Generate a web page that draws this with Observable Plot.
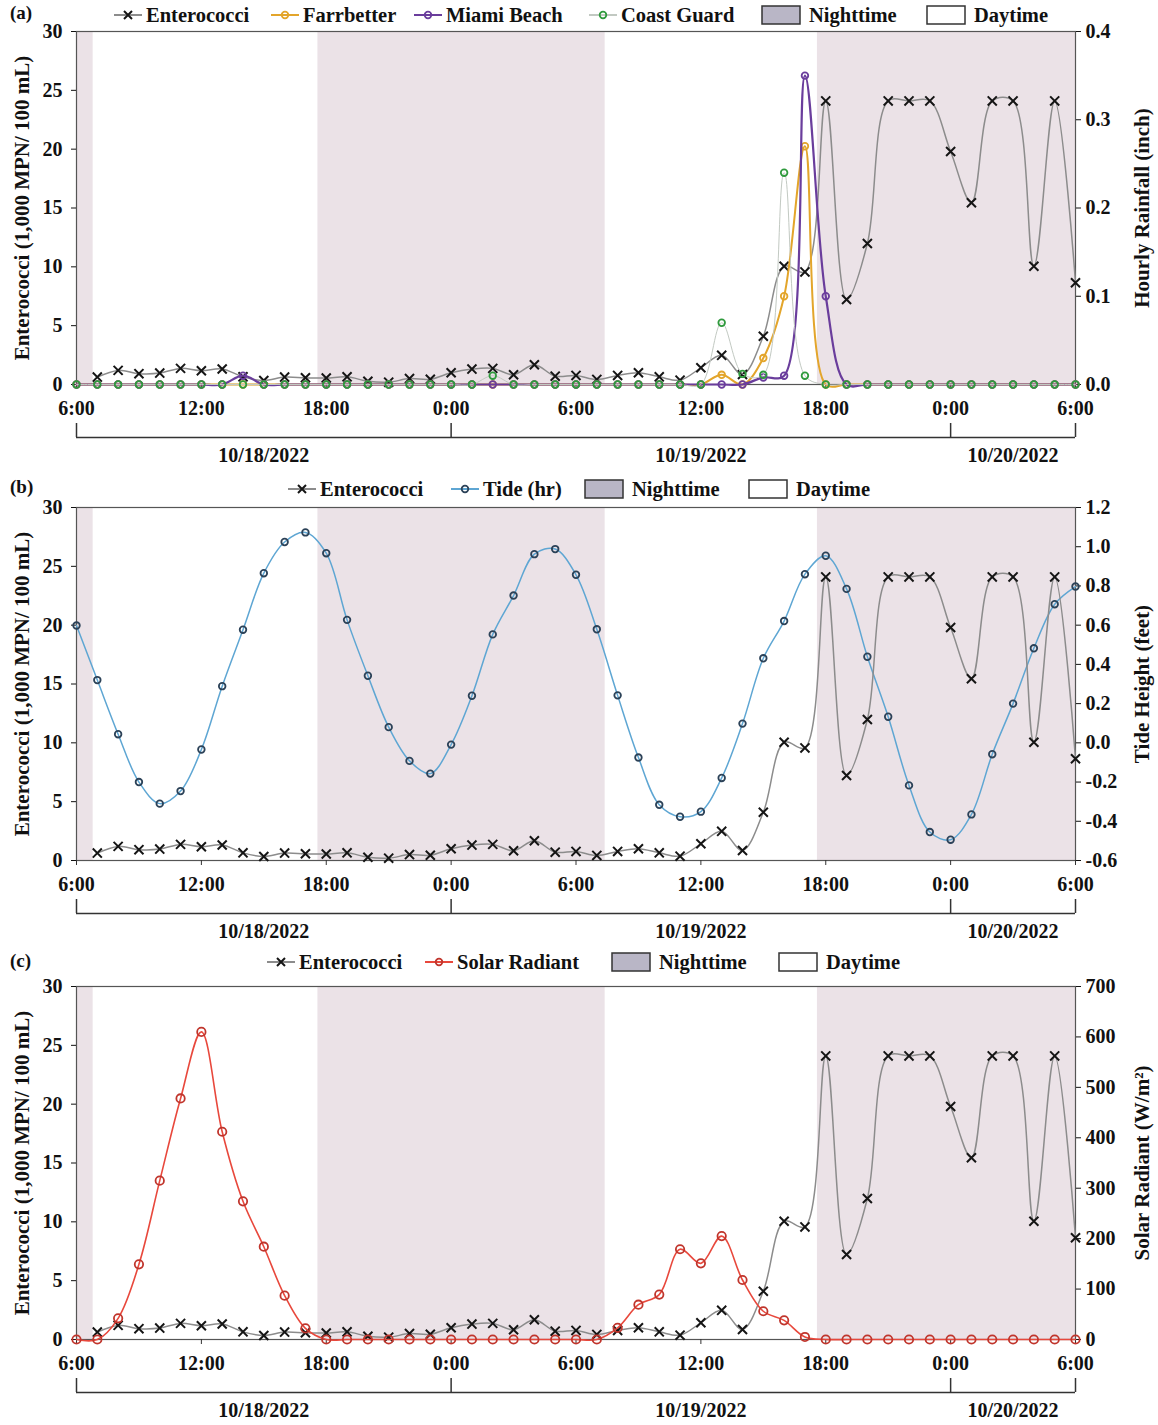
<!DOCTYPE html>
<html><head><meta charset="utf-8">
<script src="https://cdn.jsdelivr.net/npm/d3@7"></script>
<script src="https://cdn.jsdelivr.net/npm/@observablehq/plot@0.6"></script>
<style>
html,body{margin:0;padding:0;background:#fff;overflow:hidden;}
body{font-family:"Liberation Serif","Times New Roman",serif;font-weight:bold;color:#111;}
#root{position:relative;width:1158px;height:1425px;}
.panel{position:absolute;left:0;width:1158px;}
.lg{position:absolute;display:flex;align-items:center;height:24px;font-size:20.5px;white-space:nowrap;}
.lg svg{margin-right:3px;}
.tag{position:absolute;left:10px;font-size:19px;}
</style></head><body><div id="root"></div>
<script>
// ---- data (x = hours after 6:00 on 10/18/2022) ----
const hourOffsets = d3.range(0, 49);
const enteroHours = d3.range(1, 49);
const enterococci = [0.63,1.2,0.92,0.97,1.37,1.17,1.32,0.65,0.34,0.63,
  0.57,0.55,0.65,0.28,0.2,0.5,0.45,1.0,1.31,1.37,
  0.83,1.68,0.71,0.77,0.43,0.77,1.0,0.65,0.37,1.42,
  2.48,0.85,4.1,10.05,9.57,24.1,7.22,11.98,24.1,24.1,
  24.1,19.8,15.45,24.1,24.1,10.05,24.1,8.65];
const farrbetter = [0,0,0,0,0,0,0,0,0,0, 0,0,0,0,0,0,0,0,0,0, 0,0,0,0,0,0,0,0,0,0,
  0,0.011,0,0.03,0.10,0.27,0,0,0,0, 0,0,0,0,0,0,0,0,0];
const miamiBeach = [0,0,0,0,0,0,0,0,0.01,0, 0,0,0,0,0,0,0,0,0,0, 0,0,0,0,0,0,0,0,0,0,
  0,0,0,0.008,0.01,0.35,0.10,0,0,0, 0,0,0,0,0,0,0,0,0];
const coastGuard = [0,0,0,0,0,0,0,0,0,0, 0,0,0,0,0,0,0,0,0,0, 0.01,0,0,0,0,0,0,0,0,0,
  0,0.07,0.012,0.011,0.24,0.01,0,0,0,0, 0,0,0,0,0,0,0,0,0];
const tideHeight = [0.598,0.32,0.044,-0.2,-0.31,-0.246,-0.034,0.289,0.577,0.865,
  1.024,1.073,0.967,0.627,0.342,0.08,-0.092,-0.157,-0.009,0.24,
  0.553,0.751,0.962,0.988,0.857,0.579,0.242,-0.075,-0.316,-0.377,
  -0.351,-0.179,0.098,0.431,0.621,0.86,0.954,0.785,0.439,0.133,
  -0.217,-0.455,-0.494,-0.365,-0.058,0.2,0.482,0.707,0.797];
const solarRadiant = [0,0,42,149,315,478,610,412,274,184,
  87,22,0,0,0,0,0,0,0,0, 0,0,0,0,0,0,
  23,69,89,179,151,205,118,56,38,5,
  0,0,0,0,0,0,0,0,0,0,0,0,0];
const nightStart = [0, 11.6, 35.6];
const nightEnd = [0.8, 25.4, 48];
const xTicks = [0,6,12,18,24,30,36,42,48];
const xTickLabels = ["6:00","12:00","18:00","0:00","6:00","12:00","18:00","0:00","6:00"];
const dayBounds = [0, 18, 42, 48];
const dateLabels = ["10/18/2022","10/19/2022","10/20/2022"];
const leftTicks = [0,5,10,15,20,25,30];
const rainTicks = [0,0.1,0.2,0.3,0.4];
const tideTicks = [-0.6,-0.4,-0.2,0,0.2,0.4,0.6,0.8,1.0,1.2];
const solarTicks = [0,100,200,300,400,500,600,700];
const leftTitle = "Enterococci (1,000 MPN/ 100 mL)";

// ---- helpers ----
const FONT = '"Liberation Serif","Times New Roman",serif';
const nights = nightStart.map((s,i)=>({start:s,end:nightEnd[i]}));
const dateMid = dateLabels.map((d,i)=>({label:d, x:(dayBounds[i]+dayBounds[i+1])/2}));
const entero = enteroHours.map((h,i)=>({x:h,y:enterococci[i]}));
const C = {night:"#ebe2e7", entero:"#8c8c8c", farr:"#e3a52b", miami:"#6a3d9c",
  coastLine:"#c2c9c2", coast:"#2f9a3d", tideLine:"#5ea6d3", tideDot:"#2c4258",
  solarLine:"#e8483c", solarDot:"#c0352c"};

function basePlot(extraMarks, right) {
  return Plot.plot({
    width:1158, height:471, marginLeft:76, marginRight:83, marginTop:31, marginBottom:87,
    x:{domain:[hourOffsets[0], hourOffsets[hourOffsets.length-1]]},
    y:{domain:[leftTicks[0], leftTicks[leftTicks.length-1]]},
    style:{fontSize:"20px", fontFamily:FONT, fontWeight:"bold", color:"#111", background:"transparent", overflow:"visible"},
    marks:[
      Plot.rect(nights, {x1:"start", x2:"end", fill:C.night}),
      Plot.frame({stroke:"#555", strokeWidth:1.2}),
      Plot.axisX(xTicks, {tickFormat:(d)=>xTickLabels[xTicks.indexOf(d)], tickSize:5, tickPadding:11, label:null, stroke:"#333"}),
      Plot.axisY(leftTicks, {anchor:"left", tickSize:5, tickPadding:9, label:null}),
      Plot.axisY(right.ticks.map(right.toLeft), {anchor:"right", tickSize:5, tickPadding:5, tickFormat:right.fmt, label:null}),
      Plot.text([leftTitle], {frameAnchor:"left", textAnchor:"middle", rotate:-90, dx:-54, fontSize:21}),
      Plot.text([right.label], {frameAnchor:"right", textAnchor:"middle", rotate:-90, dx:67, fontSize:21}),
      Plot.ruleY([0], {x1:dayBounds[0], x2:dayBounds[dayBounds.length-1], dy:53, stroke:"#333", strokeWidth:1.5}),
      Plot.ruleX(dayBounds, {y1:0, y2:0, dy:53, insetTop:-14, stroke:"#333", strokeWidth:1.5}),
      Plot.text(dateMid, {x:"x", text:"label", frameAnchor:"bottom", dy:77, fontSize:20}),
      ...extraMarks
    ]
  });
}
function enteroMarks() {
  return [
    Plot.line(entero, {x:"x", y:"y", stroke:C.entero, strokeWidth:1.5, curve:"catmull-rom"}),
    Plot.dot(entero, {x:"x", y:"y", symbol:"times", r:4.2, stroke:"#151515", strokeWidth:2})
  ];
}
function seriesMarks(values, toLeft, lineColor, dotColor, lw, r) {
  const data = hourOffsets.map((h,i)=>({x:h, y:toLeft(values[i])}));
  return [
    Plot.line(data, {x:"x", y:"y", stroke:lineColor, strokeWidth:lw, curve:"catmull-rom"}),
    Plot.dot(data, {x:"x", y:"y", r:r, stroke:dotColor, strokeWidth:1.8, fill:"none"})
  ];
}

function swatchLine(color, marker, mcolor) {
  const m = marker === "x"
    ? `<path d="M11 3 L19 11 M19 3 L11 11" stroke="${mcolor}" stroke-width="2"/>`
    : `<circle cx="15" cy="7" r="3.3" fill="none" stroke="${mcolor}" stroke-width="1.8"/>`;
  return `<svg width="30" height="14"><line x1="1" y1="7" x2="29" y2="7" stroke="${color}" stroke-width="2"/>${m}</svg>`;
}
function swatchBox(fill) {
  return `<svg width="40" height="20" style="margin-right:8px"><rect x="1" y="1" width="38" height="18" fill="${fill}" stroke="#333" stroke-width="1.5"/></svg>`;
}
function legend(root, cy, items) {
  for (const it of items) {
    const d = document.createElement("div");
    d.className = "lg";
    d.style.left = it.left + "px";
    d.style.top = (cy - 12) + "px";
    d.innerHTML = (it.box ? swatchBox(it.box) : swatchLine(it.color, it.marker, it.mcolor)) + `<span>${it.text}</span>`;
    root.appendChild(d);
  }
}
function tag(root, top, t) {
  const d = document.createElement("div");
  d.className = "tag"; d.style.top = top + "px"; d.textContent = t;
  root.appendChild(d);
}
function place(root, top, node) {
  const d = document.createElement("div");
  d.className = "panel"; d.style.top = top + "px";
  d.appendChild(node); root.appendChild(d);
}

const root = document.getElementById("root");

// (a) rainfall
const rain = {ticks:rainTicks, toLeft:(v)=>v*30/0.4, fmt:(d)=>(d*0.4/30).toFixed(1), label:"Hourly Rainfall (inch)"};
place(root, 0, basePlot([
  ...enteroMarks(),
  ...seriesMarks(farrbetter, rain.toLeft, C.farr, C.farr, 2, 3.3),
  ...seriesMarks(miamiBeach, rain.toLeft, C.miami, C.miami, 2.2, 3.3),
  ...seriesMarks(coastGuard, rain.toLeft, C.coastLine, C.coast, 1, 3.3)
], rain));

// (b) tide
const tide = {ticks:tideTicks, toLeft:(v)=>(v+0.6)*30/1.8, fmt:(d)=>(d*1.8/30-0.6).toFixed(1), label:"Tide Height (feet)"};
place(root, 476, basePlot([
  ...seriesMarks(tideHeight, tide.toLeft, C.tideLine, C.tideDot, 1.5, 3.3),
  ...enteroMarks()
], tide));

// (c) solar
const solar = {ticks:solarTicks, toLeft:(v)=>v*30/700, fmt:(d)=>String(Math.round(d*700/30)), label:"Solar Radiant (W/m²)"};
place(root, 955, basePlot([
  ...enteroMarks(),
  ...seriesMarks(solarRadiant, solar.toLeft, C.solarLine, C.solarDot, 1.6, 4.2)
], solar));

// legends
tag(root, 2, "(a)"); tag(root, 476, "(b)"); tag(root, 950, "(c)");
legend(root, 15, [
  {left:113, color:C.entero, marker:"x", mcolor:"#151515", text:"Enterococci"},
  {left:270, color:C.farr, marker:"o", mcolor:C.farr, text:"Farrbetter"},
  {left:413, color:C.miami, marker:"o", mcolor:C.miami, text:"Miami Beach"},
  {left:588, color:C.coastLine, marker:"o", mcolor:C.coast, text:"Coast Guard"},
  {left:761, box:"#b9b6c6", text:"Nighttime"},
  {left:926, box:"#fff", text:"Daytime"}
]);
legend(root, 489, [
  {left:287, color:C.entero, marker:"x", mcolor:"#151515", text:"Enterococci"},
  {left:450, color:C.tideLine, marker:"o", mcolor:C.tideDot, text:"Tide (hr)"},
  {left:584, box:"#b9b6c6", text:"Nighttime"},
  {left:748, box:"#fff", text:"Daytime"}
]);
legend(root, 962, [
  {left:266, color:C.entero, marker:"x", mcolor:"#151515", text:"Enterococci"},
  {left:424, color:C.solarLine, marker:"o", mcolor:C.solarDot, text:"Solar Radiant"},
  {left:611, box:"#b9b6c6", text:"Nighttime"},
  {left:778, box:"#fff", text:"Daytime"}
]);
</script></body></html>
